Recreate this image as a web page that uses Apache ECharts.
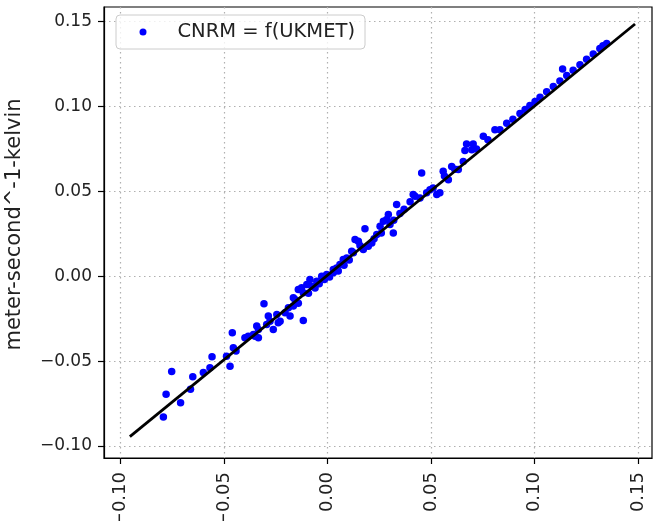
<!DOCTYPE html>
<html><head><meta charset="utf-8">
<script src="https://cdn.jsdelivr.net/npm/echarts@6/dist/echarts.min.js"></script>
<style>html,body{margin:0;padding:0;background:#fff}#c{width:655px;height:521px}</style>
</head><body><div id="c"></div>
<script>
const seriesName = 'CNRM = f(UKMET)';
const yAxisName = 'meter-second^-1-kelvin';
const tickValues = [-0.10, -0.05, 0.00, 0.05, 0.10, 0.15];
const axisRange = { xMin: -0.108, xMax: 0.1568, yMin: -0.1071, yMax: 0.1586 };
// [UKMET, CNRM]
const scatterPoints = [
[-0.0793,-0.0829],[-0.0780,-0.0696],[-0.0710,-0.0745],[-0.0753,-0.0561],[-0.0662,-0.0666],
[-0.0651,-0.0593],[-0.0600,-0.0568],[-0.0568,-0.0539],[-0.0558,-0.0475],[-0.0488,-0.0471],
[-0.0471,-0.0531],[-0.0455,-0.0421],[-0.0442,-0.0441],[-0.0460,-0.0333],[-0.0399,-0.0362],
[-0.0383,-0.0353],[-0.0358,-0.0343],[-0.0350,-0.0353],[-0.0342,-0.0294],[-0.0334,-0.0314],
[-0.0334,-0.0362],[-0.0307,-0.0162],[-0.0294,-0.0284],[-0.0286,-0.0235],[-0.0278,-0.0265],
[-0.0262,-0.0314],[-0.0245,-0.0225],[-0.0238,-0.0274],[-0.0229,-0.0265],[-0.0205,-0.0215],
[-0.0189,-0.0186],[-0.0181,-0.0235],[-0.0165,-0.0176],[-0.0165,-0.0127],[-0.0157,-0.0137],
[-0.0141,-0.0078],[-0.0141,-0.0160],[-0.0125,-0.0068],[-0.0117,-0.0098],[-0.0117,-0.0261],
[-0.0100,-0.0049],[-0.0092,-0.0100],[-0.0085,-0.0019],[-0.0076,-0.0059],[-0.0060,-0.0070],
[-0.0052,-0.0029],[-0.0040,-0.0045],[-0.0028,0.0000],[-0.0015,-0.0020],[-0.0004,0.0010],
[0.0010,-0.0005],[0.0028,0.0039],[0.0028,0.0020],[0.0044,0.0049],[0.0052,0.0030],
[0.0060,0.0069],[0.0076,0.0098],[0.0080,0.0065],[0.0093,0.0108],[0.0105,0.0095],
[0.0117,0.0147],[0.0125,0.0138],[0.0133,0.0216],[0.0149,0.0206],[0.0157,0.0181],
[0.0173,0.0157],[0.0181,0.0279],[0.0197,0.0176],[0.0214,0.0196],[0.0225,0.0220],
[0.0238,0.0245],[0.0254,0.0294],[0.0260,0.0255],[0.0270,0.0324],[0.0286,0.0334],
[0.0294,0.0363],[0.0302,0.0304],[0.0318,0.0255],[0.0320,0.0330],[0.0334,0.0422],
[0.0350,0.0370],[0.0370,0.0395],[0.0399,0.0439],[0.0414,0.0481],[0.0423,0.0471],
[0.0447,0.0461],[0.0455,0.0608],[0.0479,0.0491],[0.0495,0.0510],[0.0510,0.0520],
[0.0528,0.0481],[0.0543,0.0491],[0.0559,0.0618],[0.0565,0.0590],[0.0584,0.0569],
[0.0600,0.0647],[0.0615,0.0630],[0.0632,0.0628],[0.0656,0.0676],[0.0664,0.0741],
[0.0672,0.0779],[0.0697,0.0745],[0.0704,0.0779],[0.0720,0.0750],[0.0753,0.0824],
[0.0775,0.0804],[0.0809,0.0863],[0.0833,0.0863],[0.0866,0.0901],[0.0896,0.0924],
[0.0930,0.0958],[0.0955,0.0982],[0.0978,0.1006],[0.1003,0.1030],[0.1027,0.1054],
[0.1059,0.1086],[0.1091,0.1118],[0.1123,0.1150],[0.1136,0.1220],[0.1156,0.1182],
[0.1187,0.1214],[0.1220,0.1246],[0.1252,0.1278],[0.1284,0.1309],[0.1316,0.1342],
[0.1331,0.1357],[0.1349,0.1371]
];
const fitLine = [[-0.0955,-0.0945],[0.1486,0.1486]];

const FONT = 'DejaVu Sans';
const fmt = v => (Math.abs(v) < 1e-9 ? '0.00' : v.toFixed(2).replace('-', '\u2212'));
const chart = echarts.init(document.getElementById('c'), null, {renderer: 'canvas'});
const gridLine = { show: true, lineStyle: { color: '#b0b0b0', width: 1.2, type: [1.5, 3.5] } };
chart.setOption({
  animation: false,
  backgroundColor: '#fff',
  grid: { left: 104, right: 3, top: 7, bottom: 63, show: true, borderColor: '#000', borderWidth: 1.2,
          backgroundColor: 'transparent', containLabel: false, outerBoundsMode: 'none' },
  legend: {
    left: 116, top: 15, orient: 'horizontal',
    data: [{ name: seriesName, icon: 'circle' }],
    itemWidth: 7, itemHeight: 7,
    padding: [7, 10, 7, 23.5],
    backgroundColor: 'rgba(255,255,255,0.8)', borderColor: '#cccccc', borderWidth: 1, borderRadius: 4,
    textStyle: { fontFamily: FONT, fontSize: 19.5, color: '#222', padding: [0, 0, 0, 26] }
  },
  xAxis: {
    type: 'value', min: axisRange.xMin, max: axisRange.xMax,
    axisLine: { show: true, onZero: false, lineStyle: { color: '#000', width: 1.2 } },
    axisTick: { show: true, length: 6, customValues: tickValues, lineStyle: { color: '#000', width: 1.2 } },
    axisLabel: { show: true, rotate: 90, margin: 14, customValues: tickValues, formatter: fmt, fontFamily: FONT, fontSize: 18, color: '#222' },
    splitLine: gridLine
  },
  yAxis: {
    type: 'value', min: axisRange.yMin, max: axisRange.yMax,
    name: yAxisName, nameLocation: 'middle', nameRotate: 90, nameGap: 79,
    nameTextStyle: { fontFamily: FONT, fontSize: 21, color: '#222', padding: [0, 0, 0, 16] },
    axisLine: { show: true, onZero: false, lineStyle: { color: '#000', width: 1.2 } },
    axisTick: { show: true, length: 6, customValues: tickValues, lineStyle: { color: '#000', width: 1.2 } },
    axisLabel: { show: true, margin: 12, customValues: tickValues, formatter: fmt, fontFamily: FONT, fontSize: 17, color: '#222' },
    splitLine: gridLine
  },
  series: [
    { name: seriesName, type: 'scatter', data: scatterPoints, symbol: 'circle', symbolSize: 7.5,
      itemStyle: { color: '#0000ff', opacity: 1 }, z: 2 },
    { name: 'fit', type: 'line', data: fitLine, symbol: 'none', lineStyle: { color: '#000', width: 2.8 }, z: 3 }
  ]
});
</script></body></html>
